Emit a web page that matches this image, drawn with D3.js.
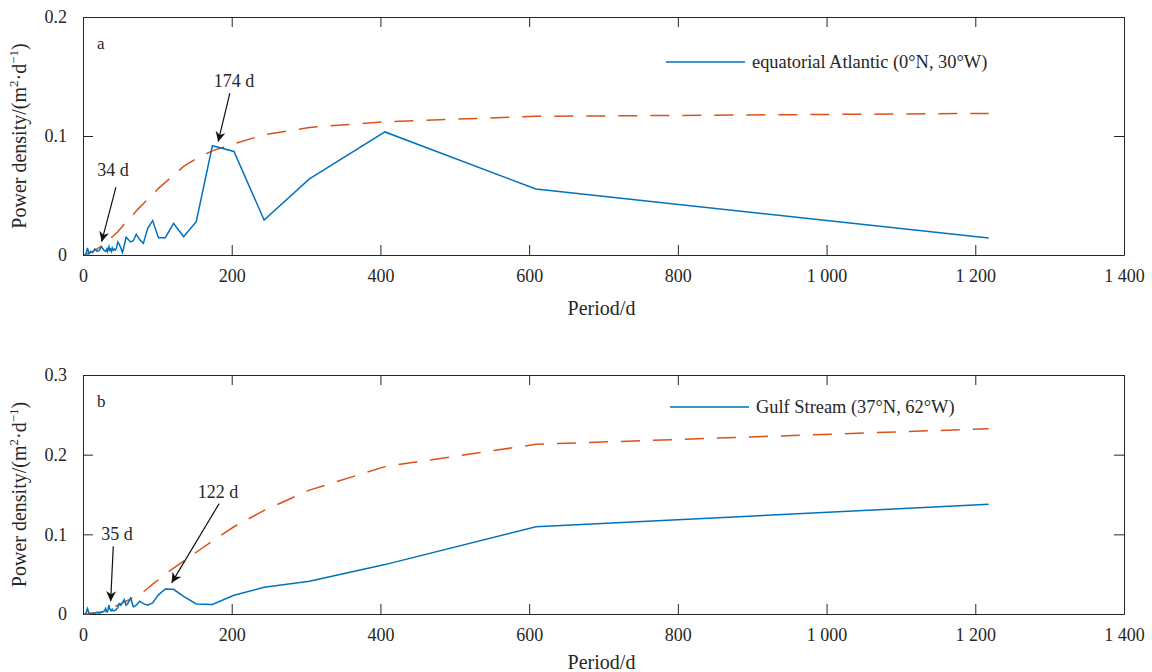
<!DOCTYPE html>
<html><head><meta charset="utf-8">
<script src="https://cdn.jsdelivr.net/npm/d3@7/dist/d3.min.js"></script>
<style>
html,body{margin:0;padding:0;background:#fff;}
svg{display:block;}
svg text{font-family:"Liberation Serif","Times New Roman",serif !important;}
</style></head>
<body><svg id="chart" width="1152" height="672"></svg>
<script>
// Periods (days) at which the spectra are evaluated (1218/k and short periods)
const periods = [1218, 609, 406, 304.5, 243.6, 203, 174, 152.3, 135.3, 121.8,
  110.7, 101.5, 93.7, 87, 81.2, 76.1, 71.6, 67.7, 64.1, 60.9,
  58, 55.4, 53, 50.8, 48.7, 46.8, 45.1, 43.5, 42, 40.6,
  39.3, 38.1, 36.9, 35.8, 34.8, 33.8, 32.9, 32.1, 31.2, 30.5,
  28, 25, 22, 19, 16, 13, 10, 8, 6, 4, 2];

// Panel a: equatorial Atlantic
const powerA = [0.0143, 0.0555, 0.1034, 0.0639, 0.0294, 0.0870, 0.0918, 0.0280, 0.0154, 0.0266,
  0.0146, 0.0146, 0.0289, 0.0224, 0.0098, 0.0130, 0.0174, 0.0120, 0.0110, 0.0130,
  0.0149, 0.0080, 0.0020, 0.0060, 0.0090, 0.0110, 0.0060, 0.0040, 0.0050, 0.0040,
  0.0060, 0.0030, 0.0050, 0.0040, 0.0070, 0.0050, 0.0030, 0.0050, 0.0040, 0.0030,
  0.0040, 0.0070, 0.0040, 0.0030, 0.0050, 0.0020, 0.0030, 0.0010, 0.0060, 0.0010, 0.0000];
const redA = [0.1190, 0.1165, 0.1120, 0.1072, 0.1010, 0.0935, 0.0875, 0.0810, 0.0745, 0.0670,
  0.0610, 0.0560, 0.0505, 0.0470, 0.0430, 0.0400, 0.0370, 0.0340, 0.0320, 0.0300,
  0.0280, 0.0260, 0.0240, 0.0225, 0.0210, 0.0195, 0.0185, 0.0175, 0.0168, 0.0160,
  0.0153, 0.0146, 0.0139, 0.0133, 0.0127, 0.0121, 0.0116, 0.0112, 0.0107, 0.0103,
  0.0092, 0.0078, 0.0064, 0.0052, 0.0040, 0.0030, 0.0021, 0.0015, 0.0010, 0.0005, 0.0000];

// Panel b: Gulf Stream
const powerB = [0.1377, 0.1095, 0.0620, 0.0410, 0.0335, 0.0235, 0.0120, 0.0126, 0.0220, 0.0310,
  0.0315, 0.0240, 0.0140, 0.0110, 0.0130, 0.0160, 0.0110, 0.0090, 0.0200, 0.0140,
  0.0110, 0.0180, 0.0140, 0.0110, 0.0130, 0.0080, 0.0060, 0.0050, 0.0040, 0.0040,
  0.0060, 0.0040, 0.0050, 0.0070, 0.0110, 0.0060, 0.0030, 0.0040, 0.0030, 0.0070,
  0.0030, 0.0020, 0.0010, 0.0020, 0.0010, 0.0010, 0.0010, 0.0010, 0.0070, 0.0010, 0.0000];
const redB = [0.2325, 0.2130, 0.1850, 0.1555, 0.1300, 0.1095, 0.0915, 0.0775, 0.0665, 0.0575,
  0.0500, 0.0430, 0.0375, 0.0320, 0.0280, 0.0255, 0.0230, 0.0210, 0.0190, 0.0175,
  0.0160, 0.0150, 0.0140, 0.0130, 0.0120, 0.0110, 0.0103, 0.0096, 0.0089, 0.0083,
  0.0078, 0.0073, 0.0068, 0.0064, 0.0060, 0.0056, 0.0053, 0.0050, 0.0047, 0.0045,
  0.0038, 0.0030, 0.0024, 0.0019, 0.0014, 0.0010, 0.0006, 0.0004, 0.0002, 0.0001, 0.0000];

const xTicks = [0, 200, 400, 600, 800, 1000, 1200, 1400];
const yTicksA = [0, 0.1, 0.2];
const yTicksB = [0, 0.1, 0.2, 0.3];
const legendA = "equatorial Atlantic (0°N, 30°W)";
const legendB = "Gulf Stream (37°N, 62°W)";
// annotations: label, arrow tip [period, power], arrow tail [period, power], text anchor [period, power]
const annotA = [
  {label: "174 d", tip: [181.8, 0.0952], tail: [197.5, 0.1361], text: [203, 0.141]},
  {label: "34 d", tip: [25.1, 0.0112], tail: [44.3, 0.0571], text: [40.3, 0.066]}
];
const annotB = [
  {label: "122 d", tip: [119.2, 0.0391], tail: [183.1, 0.1386], text: [181.4, 0.146]},
  {label: "35 d", tip: [37.2, 0.016], tail: [40.7, 0.085], text: [45.7, 0.093]}
];

const BLUE = "#0072BD", RED = "#D95319", INK = "#262626";
const FONT = '"Liberation Serif", "Times New Roman", serif';
const svg = d3.select("#chart");
svg.append("defs").append("marker")
  .attr("id", "ah").attr("viewBox", "0 0 10 10").attr("refX", 10).attr("refY", 5)
  .attr("markerWidth", 12).attr("markerHeight", 10).attr("markerUnits", "userSpaceOnUse")
  .attr("orient", "auto")
  .append("path").attr("d", "M0,0 L10,5 L0,10 L3,5 Z").attr("fill", "#111");

const fmtX = d => d >= 1000 ? String(Math.floor(d / 1000)) + " " + String(d % 1000).padStart(3, "0") : String(d);

function drawPanel(cfg) {
  const L = 83, R = 1124;
  const x = d3.scaleLinear().domain([0, 1400]).range([L, R]);
  const y = d3.scaleLinear().domain([0, cfg.ymax]).range([cfg.bottom, cfg.top]);
  const g = svg.append("g");

  const tk = 10;
  const styleAxis = sel => {
    sel.attr("font-family", FONT).attr("font-size", 18);
    sel.select(".domain").attr("stroke", INK).attr("stroke-width", 1);
    sel.selectAll(".tick line").attr("stroke", INK).attr("stroke-width", 1);
    sel.selectAll(".tick text").attr("fill", INK).style("font-size", "18px").style("font-family", FONT);
  };
  g.append("g").attr("transform", `translate(0,${cfg.bottom})`)
    .call(d3.axisBottom(x).tickValues(xTicks).tickSizeInner(-tk).tickSizeOuter(0).tickPadding(14).tickFormat(fmtX))
    .call(styleAxis);
  g.append("g").attr("transform", `translate(0,${cfg.top})`)
    .call(d3.axisTop(x).tickValues(xTicks).tickSizeInner(-tk).tickSizeOuter(0).tickFormat(""))
    .call(styleAxis);
  g.append("g").attr("transform", `translate(${L},0)`)
    .call(d3.axisLeft(y).tickValues(cfg.yTicks).tickSizeInner(-tk).tickSizeOuter(0).tickPadding(16).tickFormat(d => d === 0 ? "0" : d3.format(".1f")(d)))
    .call(styleAxis);
  g.append("g").attr("transform", `translate(${R},0)`)
    .call(d3.axisRight(y).tickValues(cfg.yTicks).tickSizeInner(-tk).tickSizeOuter(0).tickFormat(""))
    .call(styleAxis);

  const pts = (vals) => periods.map((p, i) => [p, vals[i]]).sort((a, b) => a[0] - b[0]);
  const line = d3.line().x(d => x(d[0])).y(d => y(d[1]));
  g.append("path").datum(pts(cfg.red)).attr("d", line)
    .attr("fill", "none").attr("stroke", RED).attr("stroke-width", 1.5)
    .attr("stroke-dasharray", "19,13");
  g.append("path").datum(pts(cfg.power)).attr("d", line)
    .attr("fill", "none").attr("stroke", BLUE).attr("stroke-width", 1.5)
    .attr("stroke-linejoin", "miter");

  // panel letter
  g.append("text").attr("x", L + 14).attr("y", cfg.top + 32).attr("font-size", 17).attr("fill", INK).text(cfg.letter);

  // legend
  g.append("line").attr("x1", cfg.legX).attr("x2", cfg.legX + 79).attr("y1", cfg.legY).attr("y2", cfg.legY)
    .attr("stroke", BLUE).attr("stroke-width", 1.5);
  g.append("text").attr("x", cfg.legX + 86).attr("y", cfg.legY + 6).attr("font-size", 18.4).attr("fill", INK).text(cfg.legend);

  // annotations
  cfg.annot.forEach(a => {
    g.append("line").attr("x1", x(a.tail[0])).attr("y1", y(a.tail[1]))
      .attr("x2", x(a.tip[0])).attr("y2", y(a.tip[1]))
      .attr("stroke", "#111").attr("stroke-width", 1.2).attr("marker-end", "url(#ah)");
    g.append("text").attr("x", x(a.text[0])).attr("y", y(a.text[1])).attr("text-anchor", "middle")
      .attr("font-size", 18).attr("fill", INK).text(a.label);
  });

  // x label
  g.append("text").attr("x", (L + R) / 2 - 2).attr("y", cfg.xlabY).attr("text-anchor", "middle")
    .attr("font-size", 20).attr("fill", INK).text("Period/d");
  // y label
  const cy = (cfg.top + cfg.bottom) / 2;
  const yl = g.append("text").attr("transform", `translate(26,${cy}) rotate(-90)`)
    .attr("text-anchor", "middle").attr("font-size", 20).attr("fill", INK);
  yl.append("tspan").text("Power density/(m");
  yl.append("tspan").attr("font-size", 13).attr("dy", -8).text("2");
  yl.append("tspan").attr("dy", 8).text("·d");
  yl.append("tspan").attr("font-size", 13).attr("dy", -8).text("−1");
  yl.append("tspan").attr("dy", 8).text(")");
}

drawPanel({top: 17, bottom: 255, ymax: 0.2, yTicks: yTicksA, power: powerA, red: redA,
  letter: "a", legend: legendA, legX: 666, legY: 62, annot: annotA, xlabY: 315});
drawPanel({top: 375, bottom: 614, ymax: 0.3, yTicks: yTicksB, power: powerB, red: redB,
  letter: "b", legend: legendB, legX: 670, legY: 407, annot: annotB, xlabY: 669});
</script></body></html>
